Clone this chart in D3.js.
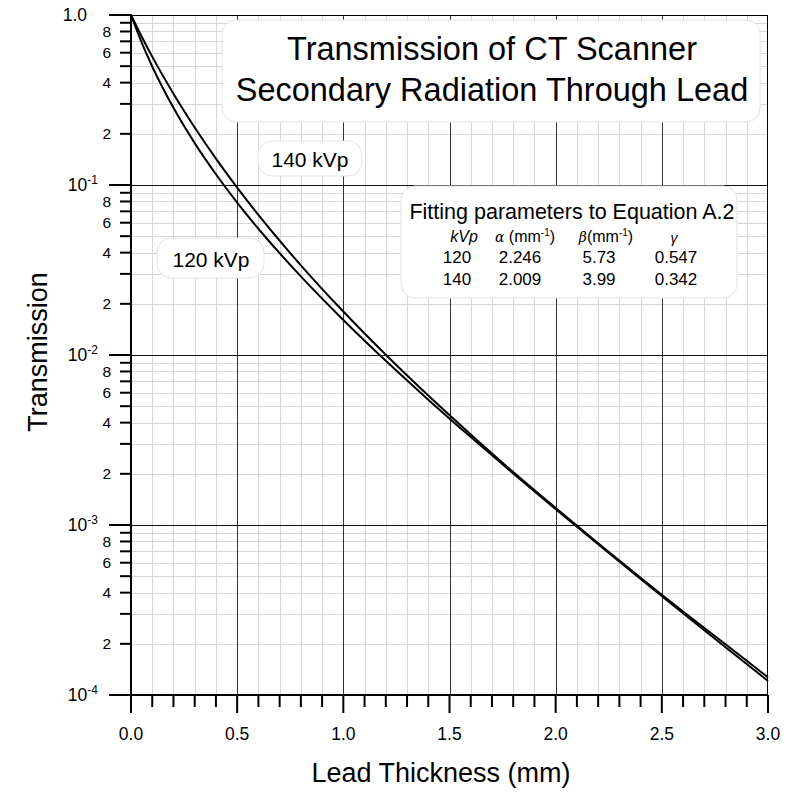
<html>
<head>
<script src="https://d3js.org/d3.v7.min.js"></script>
<style>
  body { margin: 0; background: #fff; }
  text { font-family: Arial, "Liberation Sans", sans-serif; fill: #000; }
</style>
</head>
<body>
<svg id="chart" width="788" height="792"></svg>
<script>
// lead thickness (mm)
var thickness = [0, 0.05, 0.1, 0.2, 0.3, 0.4, 0.5, 0.6, 0.8, 1.0, 1.2, 1.4, 1.6, 1.8, 2.0, 2.2, 2.4, 2.6, 2.8, 3.0];
// transmission for each series
var t120 = [1, 0.690, 0.498, 0.2844, 0.1764, 0.1157, 0.0788, 0.0553, 0.0290, 0.01607, 0.00924, 0.00546, 0.00329, 0.00201, 0.00124, 0.000771, 0.000482, 0.000303, 0.000191, 0.000121];
var t140 = [1, 0.748, 0.569, 0.3444, 0.2181, 0.1430, 0.0966, 0.0667, 0.0337, 0.01801, 0.01003, 0.00577, 0.00341, 0.00205, 0.00126, 0.000781, 0.000490, 0.000310, 0.000199, 0.000127];

var xTicks = [0, 0.5, 1.0, 1.5, 2.0, 2.5, 3.0];
var decades = [1e-4, 1e-3, 1e-2, 1e-1, 1];
var decadeLabels = [["10", "-4"], ["10", "-3"], ["10", "-2"], ["10", "-1"], ["1.0", ""]];
var minorLabels = [2, 4, 6, 8];

var paramRows = [["120", "2.246", "5.73", "0.547"], ["140", "2.009", "3.99", "0.342"]];

var svg = d3.select("#chart");
var mLeft = 131, mRight = 768, mTop = 15, mBottom = 695;

var x = d3.scaleLinear().domain([0, 3]).range([mLeft, mRight]);
var y = d3.scaleLog().domain([1e-4, 1]).range([mBottom, mTop]);

// minor values inside each decade
var minorVals = [];
decades.slice(0, 4).forEach(function(d) {
  for (var k = 2; k <= 9; k++) minorVals.push(d * k);
});
var minorX = d3.range(1, 30).map(function(i) { return i / 10; }).filter(function(v) { return Math.round(v * 10) % 5 != 0; });

function px(v) { return Math.round(v) + 0.5; }

var grid = svg.append("g");
grid.selectAll(".vminor").data(minorX).enter().append("line")
  .attr("x1", function(d) { return px(x(d)); }).attr("x2", function(d) { return px(x(d)); })
  .attr("y1", mTop).attr("y2", mBottom)
  .attr("stroke", "#d6d6d6").attr("stroke-width", 1);
grid.selectAll(".hminor").data(minorVals).enter().append("line")
  .attr("x1", mLeft).attr("x2", mRight)
  .attr("y1", function(d) { return px(y(d)); }).attr("y2", function(d) { return px(y(d)); })
  .attr("stroke", "#d6d6d6").attr("stroke-width", 1);
grid.selectAll(".vmajor").data(xTicks.slice(1, 6)).enter().append("line")
  .attr("x1", function(d) { return px(x(d)); }).attr("x2", function(d) { return px(x(d)); })
  .attr("y1", mTop).attr("y2", mBottom)
  .attr("stroke", "#333").attr("stroke-width", 1);
grid.selectAll(".hmajor").data(decades.slice(1, 4)).enter().append("line")
  .attr("x1", mLeft).attr("x2", mRight)
  .attr("y1", function(d) { return px(y(d)); }).attr("y2", function(d) { return px(y(d)); })
  .attr("stroke", "#111").attr("stroke-width", 1);

// boxes with text
function box(x0, y0, w, h) {
  svg.append("rect").attr("x", x0).attr("y", y0).attr("width", w).attr("height", h)
    .attr("rx", 14).attr("fill", "#fff").attr("stroke", "#e2e2e2").attr("stroke-width", 1);
}
box(222, 20, 538, 102);
svg.append("text").attr("x", 492).attr("y", 60).attr("text-anchor", "middle").attr("font-size", 32.5).text("Transmission of CT Scanner");
svg.append("text").attr("x", 492).attr("y", 101).attr("text-anchor", "middle").attr("font-size", 32.5).text("Secondary Radiation Through Lead");

box(258, 141, 104, 35);
svg.append("text").attr("x", 310).attr("y", 167).attr("text-anchor", "middle").attr("font-size", 21).text("140 kVp");
box(157, 238, 107, 40);
svg.append("text").attr("x", 211).attr("y", 267).attr("text-anchor", "middle").attr("font-size", 21).text("120 kVp");

box(401, 186, 336, 112);
svg.append("text").attr("x", 572).attr("y", 219).attr("text-anchor", "middle").attr("font-size", 21.5).text("Fitting parameters to Equation A.2");
var headX = [464, 525, 606, 674];
var colX = [457, 520, 599, 676];
svg.append("text").attr("x", headX[0]).attr("y", 242).attr("font-size", 16).attr("text-anchor", "middle")
  .attr("font-style", "italic").text("kVp");
var ha = svg.append("text").attr("x", headX[1]).attr("y", 242).attr("font-size", 16).attr("text-anchor", "middle");
ha.append("tspan").attr("font-style", "italic").attr("font-family", "DejaVu Serif").attr("font-size", 14).text("α ");
ha.append("tspan").text("(mm");
ha.append("tspan").attr("font-size", 10).attr("dy", -6).text("-1");
ha.append("tspan").attr("dy", 6).text(")");
var hb = svg.append("text").attr("x", headX[2]).attr("y", 242).attr("font-size", 16).attr("text-anchor", "middle");
hb.append("tspan").attr("font-style", "italic").attr("font-family", "DejaVu Serif").attr("font-size", 14).text("β");
hb.append("tspan").text("(mm");
hb.append("tspan").attr("font-size", 10).attr("dy", -6).text("-1");
hb.append("tspan").attr("dy", 6).text(")");
svg.append("text").attr("x", headX[3]).attr("y", 243).attr("font-size", 14).attr("text-anchor", "middle")
  .attr("font-style", "italic").attr("font-family", "DejaVu Serif").text("γ");
paramRows.forEach(function(r, i) {
  r.forEach(function(v, j) {
    svg.append("text").attr("x", colX[j]).attr("y", 263 + i * 22).attr("font-size", 17)
      .attr("text-anchor", "middle").text(v);
  });
});

// curves
var line = d3.line()
  .x(function(d) { return x(d[0]); })
  .y(function(d) { return y(d[1]); })
  .curve(d3.curveMonotoneX);
[t120, t140].forEach(function(s) {
  svg.append("path").datum(d3.zip(thickness, s)).attr("d", line)
    .attr("fill", "none").attr("stroke", "#000").attr("stroke-width", 2);
});

// frame
svg.append("rect").attr("x", mLeft + 0.5).attr("y", mTop + 0.5).attr("width", mRight - mLeft - 1).attr("height", mBottom - mTop)
  .attr("fill", "none").attr("stroke", "#000").attr("stroke-width", 1);
svg.append("line").attr("x1", mLeft).attr("x2", mLeft).attr("y1", mTop - 1).attr("y2", mBottom + 1).attr("stroke", "#000").attr("stroke-width", 2);
svg.append("line").attr("x1", mLeft).attr("x2", mRight).attr("y1", mBottom).attr("y2", mBottom).attr("stroke", "#000").attr("stroke-width", 2);

// y ticks
var ty = svg.append("g");
ty.selectAll(".maj").data(decades).enter().append("line")
  .attr("x1", mLeft - 22).attr("x2", mLeft).attr("y1", function(d) { return y(d); }).attr("y2", function(d) { return y(d); })
  .attr("stroke", "#000").attr("stroke-width", 2);
ty.selectAll(".min").data(minorVals).enter().append("line")
  .attr("x1", mLeft - 11).attr("x2", mLeft).attr("y1", function(d) { return y(d); }).attr("y2", function(d) { return y(d); })
  .attr("stroke", "#000").attr("stroke-width", 2);
decades.forEach(function(d, i) {
  var t = ty.append("text").attr("y", y(d) + 6).attr("font-size", 17.5).attr("text-anchor", "end");
  var lab = decadeLabels[i];
  if (lab[1] == "") {
    t.attr("x", 87).text(lab[0]);
  } else {
    t.attr("x", 98);
    t.append("tspan").text(lab[0]);
    t.append("tspan").attr("font-size", 12).attr("dy", -7).text(lab[1]);
  }
});
decades.slice(0, 4).forEach(function(d) {
  minorLabels.forEach(function(k) {
    ty.append("text").attr("x", 111).attr("y", y(d * k) + 5.5).attr("font-size", 15.5).attr("text-anchor", "end").text(k);
  });
});

// x ticks
var tx = svg.append("g");
tx.selectAll(".min").data(minorX).enter().append("line")
  .attr("x1", function(d) { return x(d); }).attr("x2", function(d) { return x(d); })
  .attr("y1", mBottom).attr("y2", mBottom + 12).attr("stroke", "#000").attr("stroke-width", 2);
tx.selectAll(".maj").data(xTicks).enter().append("line")
  .attr("x1", function(d) { return x(d); }).attr("x2", function(d) { return x(d); })
  .attr("y1", mBottom).attr("y2", mBottom + 18).attr("stroke", "#000").attr("stroke-width", 2);
tx.selectAll(".lab").data(xTicks).enter().append("text")
  .attr("x", function(d) { return x(d); }).attr("y", 740).attr("font-size", 17.5).attr("text-anchor", "middle")
  .text(function(d) { return d3.format(".1f")(d); });

// axis titles
svg.append("text").attr("x", 441).attr("y", 782).attr("text-anchor", "middle").attr("font-size", 27).text("Lead Thickness (mm)");
svg.append("text").attr("transform", "translate(47,352) rotate(-90)").attr("text-anchor", "middle").attr("font-size", 27).text("Transmission");
</script>
</body>
</html>
